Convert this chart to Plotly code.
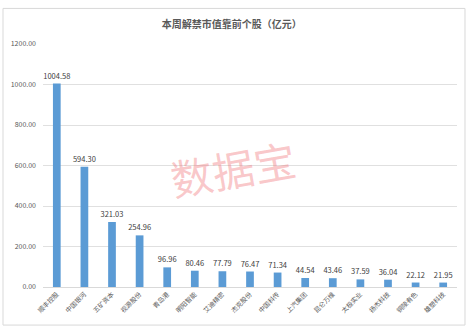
import plotly.graph_objects as go

categories = ["顺丰控股", "中国银河", "五矿资本", "视源股份", "青岛港", "明阳智能", "艾迪精密",
              "杰克股份", "中国科传", "上汽集团", "昆仑万维", "太极实业", "扬杰科技", "铜陵有色", "雄塑科技"]
values = [1004.58, 594.30, 321.03, 254.96, 96.96, 80.46, 77.79, 76.47, 71.34, 44.54, 43.46, 37.59, 36.04, 22.12, 21.95]
y_ticks = [0, 200, 400, 600, 800, 1000, 1200]
title_text = "本周解禁市值靠前个股（亿元）"
watermark = "数据宝"

FONT = "Noto Sans CJK SC"

fig = go.Figure(go.Bar(
    x=categories, y=values,
    marker=dict(color="#5B9BD5", line=dict(width=0)),
    text=[f"{v:.2f}" for v in values],
    textposition="outside",
    constraintext="none",
    textfont=dict(size=7.5, color="#404040", family=FONT),
    cliponaxis=False,
))

fig.update_layout(
    width=469, height=331,
    margin=dict(l=43, r=12, t=44, b=44),
    paper_bgcolor="white", plot_bgcolor="white",
    bargap=0.72,
    showlegend=False,
    font=dict(family=FONT, color="#595959"),
    title=dict(text=title_text, x=0.494, xanchor="center", y=0.925, yanchor="middle",
               font=dict(size=10, color="#595959", family=FONT, weight="bold")),
    xaxis=dict(tickangle=-45, tickfont=dict(size=6.5, color="#595959"),
               showgrid=False, showline=True, linecolor="#d9d9d9", linewidth=1, ticks=""),
    yaxis=dict(range=[0, 1200], tickvals=y_ticks, tickformat=".2f",
               tickfont=dict(size=7, color="#595959"),
               showgrid=True, gridcolor="#e0e0e0", gridwidth=1,
               zeroline=False, showline=False, ticks="", ticklabelstandoff=6),
    shapes=[dict(type="rect", xref="paper", yref="paper",
                 x0=-0.0966, x1=1.0193, y0=-0.1567, y1=1.1464,
                 line=dict(color="#d9d9d9", width=1), fillcolor="rgba(0,0,0,0)", layer="below")],
    annotations=[dict(text=watermark, xref="paper", yref="paper", x=0.46, y=0.49,
                      showarrow=False, textangle=-10,
                      font=dict(size=42, color="rgba(240,110,115,0.38)", family=FONT))],
)

fig.write_html("out.html")
